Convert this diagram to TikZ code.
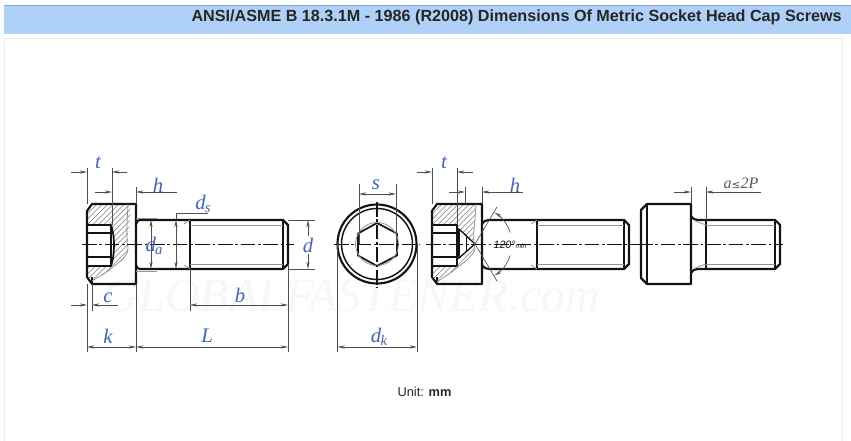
\documentclass[tikz,border=0pt]{standalone}
\usepackage{fontspec}
\setmainfont{Liberation Sans}
\newfontfamily\lblfont{Liberation Serif}
\usetikzlibrary{arrows.meta}
\definecolor{barblue}{HTML}{AFD1F7}
\definecolor{barline}{HTML}{7FA9DC}
\definecolor{lblblue}{HTML}{3F63C4}
\definecolor{ink}{HTML}{141414}
\tikzset{
  outline/.style={draw=ink,line width=1.6pt,line join=round},
  faint/.style={draw=ink!45,line width=0.6pt},
  medline/.style={draw=ink,line width=1pt},
  hatchline/.style={draw=ink!55,line width=0.45pt},
  centerline/.style={draw=ink,line width=0.85pt,dash pattern=on 11pt off 2pt on 2pt off 2pt},
  dimline/.style={draw=ink!75,line width=0.5pt},
  dimarrow/.style={dimline,{Stealth[length=5.5pt,width=2.4pt]}-{Stealth[length=5.5pt,width=2.4pt]}},
  endarrow/.style={dimline,-{Stealth[length=5.5pt,width=2.4pt]}},
  lbl/.style={text=lblblue,font=\lblfont\itshape\fontsize{15.5pt}{15.5pt}\selectfont,inner sep=0pt},
}
\begin{document}
\begin{tikzpicture}[x=0.75pt,y=-0.75pt]
\useasboundingbox (0,0) rectangle (851,441);
\fill[white] (0,0) rectangle (851,441);
% header
\fill[barblue] (4,5) rectangle (851,34);
\draw[barline,line width=0.6pt] (4,5.3) -- (851,5.3);
\node[anchor=east,inner sep=0pt,text=black!85,font=\bfseries\fontsize{12.12pt}{13pt}\selectfont] (title) at (842,17) {ANSI/ASME B 18.3.1M - 1986 (R2008) Dimensions Of Metric Socket Head Cap Screws};
% panel
\draw[draw=black!8,line width=0.6pt] (4.5,441) -- (4.5,38.5) -- (842.5,38.5) -- (842.5,441);
% watermark
\node[text=black!3,font=\lblfont\itshape\fontsize{36pt}{36pt}\selectfont,inner sep=0pt] (mark) at (352,296) {GLOBALFASTENER.com};
% ---------- bolt 1
\begin{scope}
  \clip (87,211) -- (92,204) -- (131,204) .. controls (130,225) and (127,235) .. (128,248) .. controls (128,256) and (120,262) .. (114,266) .. controls (108,272) and (100,276) .. (92,284) -- (87,277) -- cycle;
  \foreach \k in {0,...,26} \draw[hatchline] (5.5*\k,290) -- (5.5*\k+90,200);
\end{scope}
\fill[white] (87,225) -- (111,225) .. controls (115,235) and (115,255) .. (111,266) -- (87,266) -- cycle;
\draw[outline] (136,204) -- (92,204) -- (87,211) -- (87,277) -- (92,284) -- (136,284) -- cycle;
\draw[medline] (92,277) -- (92,284);
\draw[outline,line width=1.3pt] (87,225) -- (111,225) .. controls (115,235) and (115,255) .. (111,266) -- (87,266);
\draw[medline] (87,233) -- (112,233) (87,257) -- (112,257) (111,225) -- (111,266);
\draw[faint] (128,204) .. controls (127,225) and (126,235) .. (128,248) .. controls (128,256) and (120,262) .. (114,266) .. controls (108,272) and (100,276) .. (92,281);
\draw[outline] (136,224) .. controls (137,221) and (138,220) .. (140,220) -- (283,220) -- (288,225) -- (288,264) -- (283,269) -- (140,269) .. controls (138,269) and (137,268) .. (136,265);
\draw[outline] (190,220) -- (190,269);
\draw[outline,line width=1.1pt] (283,220) -- (283,269);
\draw[faint] (190,225) -- (283,225) (190,264) -- (283,264);
\draw[faint] (184,224) -- (190,220) (184,265) -- (190,269);
\draw[faint] (136,218) -- (157,218) (136,271) -- (157,271);
\draw[centerline] (82,244.5) -- (294,244.5);
% dims bolt 1
\draw[dimline] (87,168) -- (87,204) (112,168) -- (112,225) (136,187) -- (136,204);
\draw[endarrow] (71,172) -- (87,172);
\draw[endarrow] (127,172) -- (112,172);
\draw[endarrow] (95,192) -- (112,192);
\draw[endarrow] (177,192) -- (136,192);
\draw[endarrow] (71,305) -- (87,305);
\draw[endarrow] (118,305) -- (92,305);
\draw[dimline] (92,284) -- (92,311);
\draw[dimline] (87,284) -- (87,352) (136,284) -- (136,352) (288,264) -- (288,352) (190,269) -- (190,311);
\draw[dimarrow] (87,347) -- (136,347);
\draw[dimarrow] (136,347) -- (288,347);
\draw[dimarrow] (190,305) -- (288,305);
\draw[dimarrow] (151,220) -- (151,269);
\draw[dimarrow] (176,220) -- (176,269);
\draw[dimline] (176,220) -- (176,213) -- (208,213);
\draw[dimarrow] (308,220) -- (308,269);
\draw[dimline] (288,220) -- (315,220) (288,269) -- (315,269);
\node[lbl] (t1) at (98,163) {t};
\node[lbl] (h1) at (158,185) {h};
\node[lbl] (c1) at (108,298) {c};
\node[lbl] (k1) at (108,336) {k};
\node[lbl] (L1) at (207,336) {L};
\node[lbl] (b1) at (240,295) {b};
\node[lbl] (ds) at (203,204) {d\kern-0.5pt\raisebox{-2.5pt}{\fontsize{11pt}{11pt}\selectfont s}};
\node[lbl] (da) at (154,246) {d\kern-0.5pt\raisebox{-2.5pt}{\fontsize{11pt}{11pt}\selectfont a}};
\node[lbl,fill=white,inner sep=1pt] (d1) at (308,245) {d};
% ---------- top view
\draw[outline] (377,244) circle[radius=39.5];
\draw[medline,line width=1.1pt] (377,244) circle[radius=35.5];
\draw[outline,line width=1.3pt] (377,223) -- (397,233.5) -- (397,255.5) -- (377,266) -- (358,255.5) -- (358,233.5) -- cycle;
\draw[faint] (377,244) circle[radius=21.5];
\draw[centerline] (334,244.5) -- (420,244.5);
\draw[centerline] (377,202) -- (377,288);
\draw[dimline] (359,184) -- (359,244) (396,184) -- (396,244);
\draw[dimarrow] (359,194) -- (396,194);
\draw[dimline] (337.5,244) -- (337.5,352) (417,244) -- (417,352);
\draw[dimarrow] (337.5,347) -- (417,347);
\node[lbl] (s1) at (376,185) {s};
\node[lbl] (dk) at (379,337) {d\kern-0.5pt\raisebox{-2.5pt}{\fontsize{11pt}{11pt}\selectfont k}};
% ---------- bolt 2
\begin{scope}
  \clip (432,211) -- (437,204) -- (476,204) .. controls (475,225) and (472,235) .. (475,250) .. controls (470,258) and (465,262) .. (459,266) .. controls (453,272) and (445,276) .. (437,284) -- (432,277) -- cycle;
  \foreach \k in {0,...,26} \draw[hatchline] (345+5.5*\k,290) -- (345+5.5*\k+90,200);
\end{scope}
\fill[white] (432,225) -- (457,225) -- (459,229) -- (475,244) -- (459,258) -- (457,266) -- (432,266) -- cycle;
\draw[outline] (482,204) -- (437,204) -- (432,211) -- (432,277) -- (437,284) -- (482,284) -- cycle;
\draw[medline] (437,277) -- (437,284);
\draw[outline,line width=1.3pt] (432,225) -- (457,225) -- (457,266) -- (432,266);
\draw[medline] (432,233) -- (457,233) (432,257) -- (457,257);
\draw[medline] (457,229) -- (459,229) -- (475,244) -- (459,258) -- (457,258);
\draw[medline] (459,229) -- (459,258);
\draw[medline,line width=0.6pt] (466,236) -- (466,252);
\draw[faint] (476,204) .. controls (475,225) and (472,235) .. (475,250) .. controls (470,258) and (465,262) .. (459,266) .. controls (453,272) and (445,276) .. (437,282);
\draw[outline] (482,224) .. controls (484,221) and (486,220) .. (489,220) -- (624,220) -- (629,225) -- (629,264) -- (624,269) -- (489,269) .. controls (486,269) and (484,268) .. (482,265);
\draw[outline] (537,220) -- (537,269);
\draw[outline,line width=1.1pt] (624,220) -- (624,269);
\draw[faint] (537,225) -- (624,225) (537,264) -- (624,264);
\draw[faint] (531,224) -- (537,220) (531,265) -- (537,269);
\draw[centerline] (426,244.5) -- (639,244.5);
% dims bolt 2
\draw[dimline] (432,168) -- (432,204) (457,168) -- (457,225) (482,187) -- (482,204) (465,187) -- (465,204);
\draw[endarrow] (417,172) -- (432,172);
\draw[endarrow] (473,172) -- (457,172);
\draw[endarrow] (449,192) -- (465,192);
\draw[endarrow] (523,192) -- (482,192);
\node[lbl] (t2) at (444,163) {t};
\node[lbl] (h2) at (515,185) {h};
\draw[dimline] (475,244) -- (497,207) (475,244) -- (497,281);
\draw[dimline,{Stealth[length=5.5pt,width=2.4pt]}-] (494.6,212.6) arc[start angle=-58,end angle=-18,radius=37];
\draw[dimline,{Stealth[length=5.5pt,width=2.4pt]}-] (494.6,275.4) arc[start angle=58,end angle=18,radius=37];
\node[inner sep=0pt,text=ink,font=\itshape\fontsize{8pt}{8pt}\selectfont] (ang) at (510,244.5) {120°\fontsize{5pt}{6pt}\selectfont min};
% ---------- bolt 3
\draw[outline] (691,204) -- (647,204) -- (641,210) -- (641,278) -- (647,284) -- (691,284) -- cycle;
\draw[medline] (647,204) -- (647,284);
\draw[outline] (691,216) .. controls (693,219) and (695,220) .. (698,220) -- (775,220) -- (780,225) -- (780,264) -- (775,269) -- (698,269) .. controls (695,269) and (693,270) .. (691,273);
\draw[outline] (706,220) -- (706,269);
\draw[outline,line width=1.1pt] (775,220) -- (775,269);
\draw[faint] (706,225) -- (775,225) (706,264) -- (775,264);
\draw[faint] (695,221) -- (706,225) (695,268) -- (706,264);
\draw[centerline] (638,244.5) -- (783,244.5);
\draw[dimline] (691,187) -- (691,204) (706,187) -- (706,220);
\draw[endarrow] (674,192) -- (691,192);
\draw[endarrow] (761,192) -- (706,192);
\node[inner sep=0pt,text=ink!70,font=\lblfont\itshape\fontsize{12pt}{12pt}\selectfont] (a2p) at (741,183) {a{\fontspec{DejaVu Sans}\fontsize{8pt}{8pt}\selectfont ≤}2P};
% unit
\node[inner sep=0pt,text=black!85,font=\fontsize{9.6pt}{11pt}\selectfont] (unit) at (424.5,392) {Unit: \textbf{mm}};
\end{tikzpicture}
\end{document}
